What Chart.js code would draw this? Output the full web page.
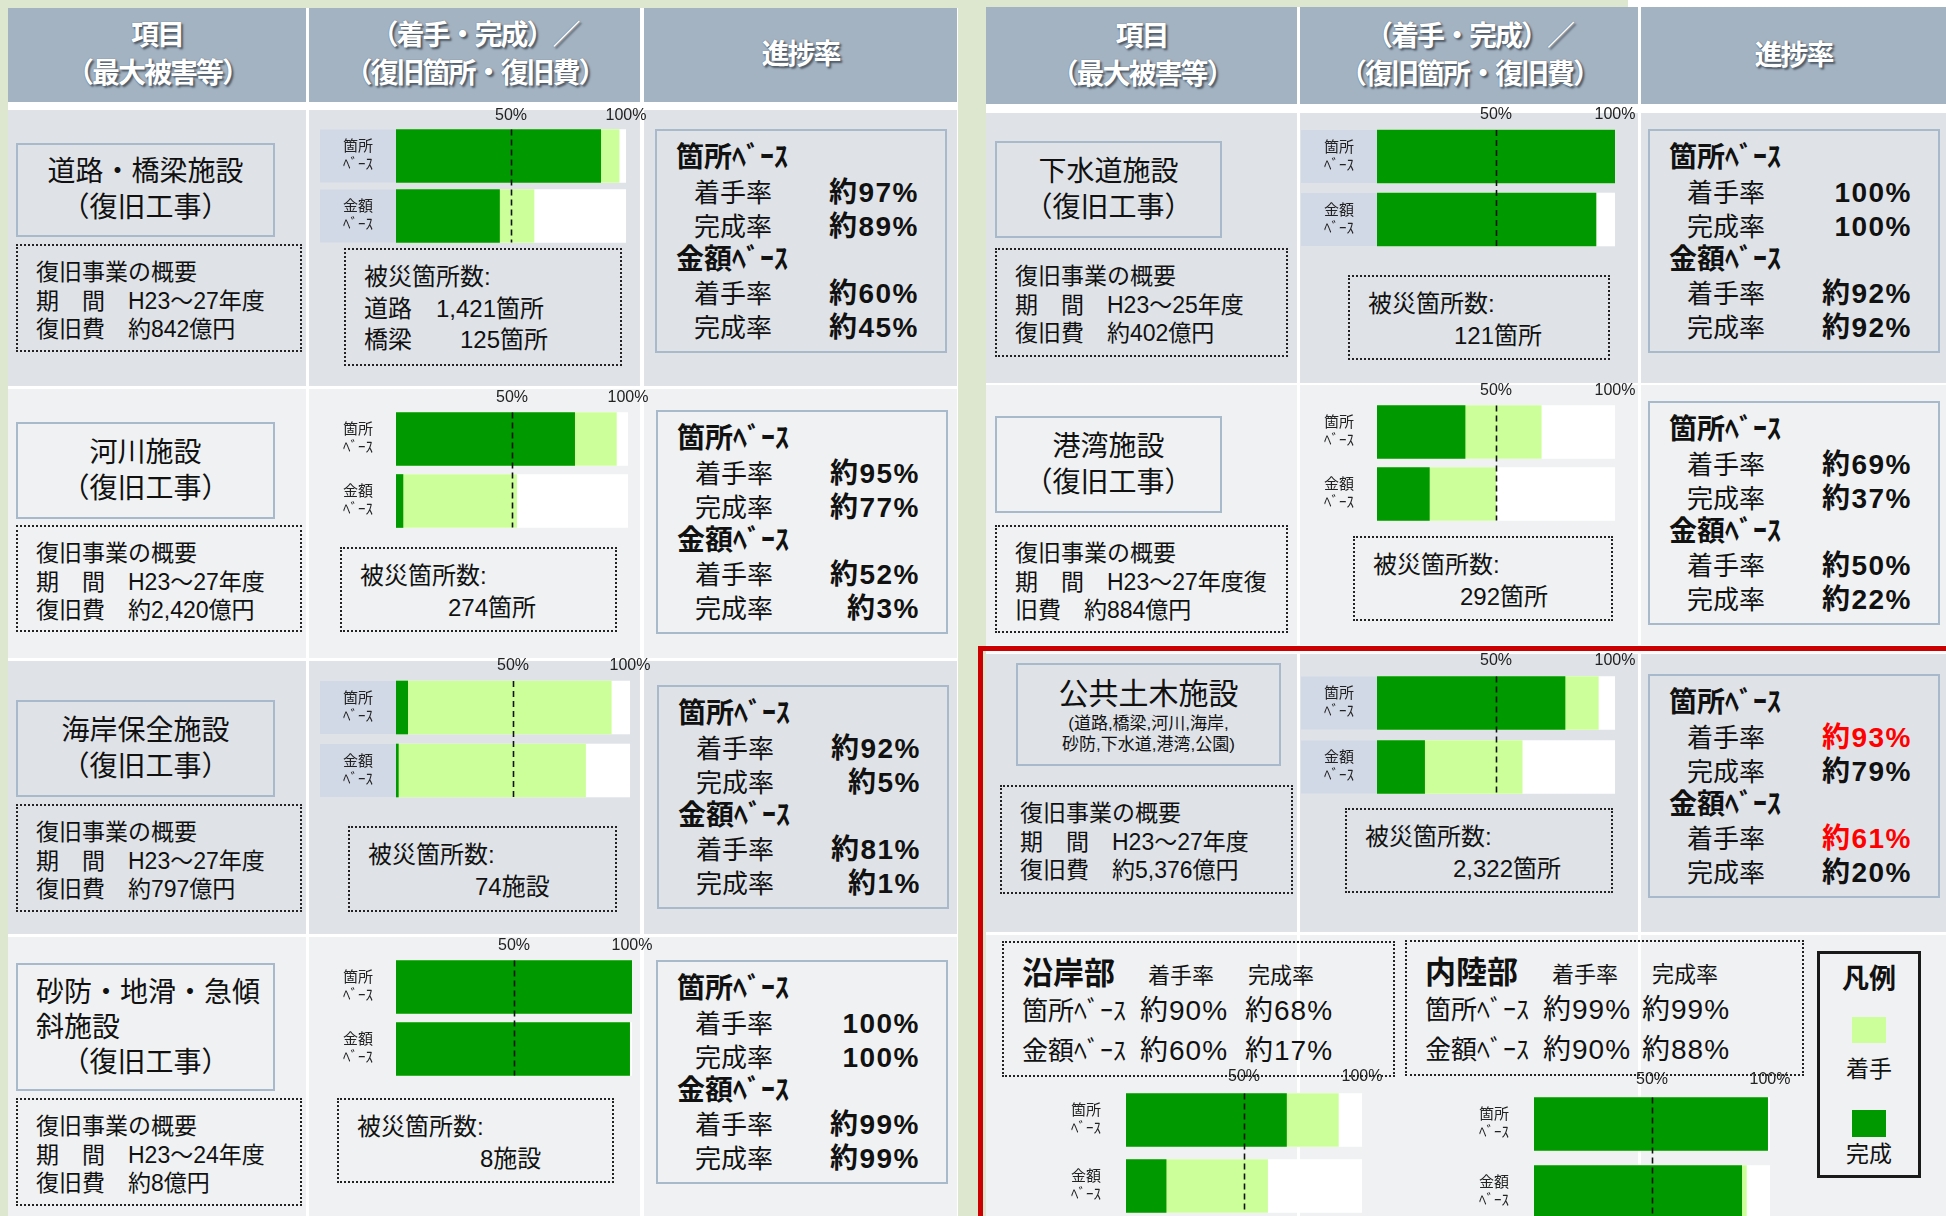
<!DOCTYPE html>
<html lang="ja">
<head>
<meta charset="utf-8">
<title>公共土木施設 復旧工事の進捗</title>
<script src="https://cdn.jsdelivr.net/npm/chart.js@4.4.1/dist/chart.umd.min.js"></script>
<style>
  html, body { margin: 0; padding: 0; }
  body { width: 1946px; height: 1216px; position: relative; overflow: hidden; background: #dde7cf;
         font-family: 'Liberation Sans', 'Noto Sans CJK JP', sans-serif; color: #111; }
  .abs { position: absolute; box-sizing: border-box; }
  .head { background: #a4b3c2; color: #fff; font-weight: 700; font-size: 28px; line-height: 38px; letter-spacing: -2px;
          display: flex; flex-direction: column; align-items: center; justify-content: center;
          text-shadow: 2px 2px 2px #4e5a67, 0 0 1px #4e5a67; }
  .item { border: 2.5px solid #a9b9cc; display: flex; flex-direction: column; justify-content: center; font-size: 28px; line-height: 36px; }
  .item div { text-align: center; white-space: nowrap; }
  .dot { border: 2px dotted #222; }
  .prog { border: 2.5px solid #a9b9cc; }
  .line { position: absolute; white-space: nowrap; transform: translateY(-50%); line-height: 1; }
</style>
</head>
<body>
<script>
// ---- データ ----
const facilities = ['道路・橋梁施設', '河川施設', '海岸保全施設', '砂防・地滑・急傾斜施設', '下水道施設', '港湾施設', '公共土木施設'];
const baseLabels = [['箇所', 'ﾍﾞｰｽ'], ['金額', 'ﾍﾞｰｽ']];
const scaleMax = [100, 100];

// 箇所ベース / 金額ベース (%)
const startCount = [97, 95, 92, 100, 100, 69, 93];
const doneCount  = [89, 77, 5, 100, 100, 37, 79];
const startCost  = [60, 52, 81, 99, 92, 50, 61];
const doneCost   = [45, 3, 1, 99, 92, 22, 20];

const titleLines = [
  ['道路・橋梁施設', '（復旧工事）'],
  ['河川施設', '（復旧工事）'],
  ['海岸保全施設', '（復旧工事）'],
  ['砂防・地滑・急傾', '斜施設', '（復旧工事）'],
  ['下水道施設', '（復旧工事）'],
  ['港湾施設', '（復旧工事）'],
  ['公共土木施設', '(道路,橋梁,河川,海岸,', '砂防,下水道,港湾,公園)']
];
const overviewLines = [
  ['復旧事業の概要', '期　間　H23～27年度', '復旧費　約842億円'],
  ['復旧事業の概要', '期　間　H23～27年度', '復旧費　約2,420億円'],
  ['復旧事業の概要', '期　間　H23～27年度', '復旧費　約797億円'],
  ['復旧事業の概要', '期　間　H23～24年度', '復旧費　約8億円'],
  ['復旧事業の概要', '期　間　H23～25年度', '復旧費　約402億円'],
  ['復旧事業の概要', '期　間　H23～27年度復', '旧費　約884億円'],
  ['復旧事業の概要', '期　間　H23～27年度', '復旧費　約5,376億円']
];
const damageLines = [
  ['被災箇所数:', '道路　1,421箇所', '橋梁　　125箇所'],
  ['被災箇所数:', '274箇所'],
  ['被災箇所数:', '74施設'],
  ['被災箇所数:', '8施設'],
  ['被災箇所数:', '121箇所'],
  ['被災箇所数:', '292箇所'],
  ['被災箇所数:', '2,322箇所']
];

const regions = ['沿岸部', '内陸部'];
const regionStartCount = [90, 99];
const regionDoneCount  = [68, 99];
const regionStartCost  = [60, 90];
const regionDoneCost   = [17, 88];

const headTitles = [['項目', '（最大被害等）'], ['（着手・完成）／', '（復旧箇所・復旧費）'], ['進捗率']];
const legendLabels = ['着手', '完成'];

// ---- 見た目 ----
const FONT = "'Liberation Sans', 'Noto Sans CJK JP', sans-serif";
Chart.defaults.font.family = FONT;
const DONE = '#009900', START = '#ccff99';
const DARK_ROW = '#dfe3e8', LIGHT_ROW = '#eff1f3';
const BAR = 53;

function el(x, y, w, h, cls, css) {
  const d = document.createElement('div');
  d.className = 'abs ' + (cls || '');
  Object.assign(d.style, { left: x + 'px', top: y + 'px', width: w + 'px', height: h + 'px' }, css || {});
  document.body.appendChild(d);
  return d;
}
function txt(parent, x, y, s, css) {
  const d = document.createElement('div');
  d.className = 'line';
  d.textContent = s;
  Object.assign(d.style, { top: y + 'px' }, x === null ? {} : { left: x + 'px' }, css || {});
  parent.appendChild(d);
  return d;
}
const pct = v => v === 100 ? '100%' : '約' + v + '%';

// テーブルの枠
el(1628, 0, 318, 8, '', { background: '#fff' });
el(8, 8, 950, 1208, '', { background: '#fff' });
el(986, 7, 960, 1209, '', { background: '#fff' });

const tables = [
  { cols: [[8, 306], [309, 640], [644, 957]], head: [8, 102], rows: [[110, 386], [389, 658], [661, 934], [937, 1216]] },
  { cols: [[986, 1297], [1300, 1638], [1641, 1946]], head: [7, 104], rows: [[113, 383], [385, 645], [654, 932], [935, 1216]] }
];
tables.forEach(t => {
  t.cols.forEach((c, ci) => {
    const h = el(c[0], t.head[0], c[1] - c[0], t.head[1] - t.head[0], 'head');
    headTitles[ci].forEach(s => { const d = document.createElement('div'); d.textContent = s; h.appendChild(d); });
    t.rows.forEach((r, ri) => {
      el(c[0], r[0], c[1] - c[0], r[1] - r[0], '', { background: ri % 2 === 0 ? DARK_ROW : LIGHT_ROW });
    });
  });
});

// 各施設の配置
const layout = [
  { item: [16, 143, 259, 94],  over: [16, 244, 286, 108],  dmg: [344, 248, 278, 118], indent: 20,  prog: [655, 129],  bar: [396, 129, 230, 60], box: true },
  { item: [16, 422, 259, 97],  over: [16, 525, 286, 107],  dmg: [340, 547, 277, 85],  indent: 108, prog: [656, 410],  bar: [396, 412, 232, 62], box: false },
  { item: [16, 700, 259, 97],  over: [16, 804, 286, 108],  dmg: [348, 826, 269, 86],  indent: 127, prog: [657, 685],  bar: [396, 681, 234, 63], box: true },
  { item: [16, 963, 259, 128], over: [16, 1098, 286, 108], dmg: [337, 1098, 277, 85], indent: 143, prog: [656, 960],  bar: [396, 960, 236, 62], box: false },
  { item: [995, 141, 227, 97], over: [995, 248, 293, 109], dmg: [1348, 275, 262, 85], indent: 106, prog: [1648, 129], bar: [1377, 130, 238, 63], box: true },
  { item: [995, 416, 227, 97], over: [995, 525, 293, 108], dmg: [1353, 536, 260, 85], indent: 107, prog: [1648, 401], bar: [1377, 405, 238, 62], box: false },
  { item: [1016, 663, 265, 103], over: [1000, 785, 293, 109], dmg: [1345, 808, 268, 85], indent: 108, prog: [1648, 674], bar: [1377, 676, 238, 64], box: true, hot: true }
];

// 50%の破線
const halfLine = {
  id: 'halfLine',
  afterDatasetsDraw(chart) {
    const { ctx, scales: { x, y } } = chart;
    const px = Math.round(x.getPixelForValue(50)) + 0.5;
    const top = y.getPixelForTick(0) - BAR / 2;
    const bottom = y.getPixelForTick(y.ticks.length - 1) + BAR / 2;
    ctx.save();
    ctx.setLineDash([6, 4]);
    ctx.lineWidth = 1.6;
    ctx.strokeStyle = '#111';
    ctx.beginPath();
    ctx.moveTo(px, top);
    ctx.lineTo(px, bottom);
    ctx.stroke();
    ctx.restore();
  }
};
// 箇所/金額ラベルの背景
const labelBox = {
  id: 'labelBox',
  beforeDraw(chart, args, opts) {
    if (!opts.show) return;
    const { ctx, chartArea, scales: { y } } = chart;
    ctx.save();
    ctx.fillStyle = '#d2d9e6';
    y.ticks.forEach((t, i) => {
      const cy = y.getPixelForTick(i);
      ctx.fillRect(y.left, cy - BAR / 2, chartArea.left - y.left, BAR);
    });
    ctx.restore();
  }
};

function makeBars(x0, barTop, barW, band, done, started, withBox, LW) {
  const TH = 22, RP = 26;
  const cv = document.createElement('canvas');
  cv.width = LW + barW + RP;
  cv.height = TH + band * 2;
  cv.className = 'abs';
  cv.style.left = (x0 - LW) + 'px';
  cv.style.top = (barTop - (band - BAR) / 2 - TH) + 'px';
  document.body.appendChild(cv);

  new Chart(cv, {
    type: 'bar',
    data: {
      labels: baseLabels,
      datasets: [
        { label: '完成', data: done, backgroundColor: DONE, grouped: false, barThickness: BAR },
        { label: '着手', data: started, backgroundColor: START, grouped: false, barThickness: BAR },
        { label: '', data: scaleMax, backgroundColor: '#ffffff', grouped: false, barThickness: BAR }
      ]
    },
    options: {
      indexAxis: 'y',
      responsive: false,
      animation: false,
      events: [],
      layout: { autoPadding: false, padding: { top: 0, right: RP, bottom: 0, left: 0 } },
      plugins: {
        legend: { display: false },
        tooltip: { enabled: false },
        labelBox: { show: withBox }
      },
      scales: {
        x: {
          position: 'top', min: 0, max: 100,
          grid: { display: false, drawTicks: false },
          border: { display: false },
          ticks: { stepSize: 50, padding: 1, color: '#222', font: { size: 16 },
                   callback: v => v === 0 ? '' : v + '%' },
          afterFit: s => { s.height = TH; s.paddingLeft = 0; s.paddingRight = 0; }
        },
        y: {
          grid: { display: false, drawTicks: false },
          border: { display: false },
          ticks: { crossAlign: 'center', padding: LW / 2 - 15, color: '#222', font: { size: 15, lineHeight: 1.2 } },
          afterFit: s => { s.width = LW; s.paddingTop = 0; s.paddingBottom = 0; }
        }
      }
    },
    plugins: [labelBox, halfLine]
  });
}

facilities.forEach((name, i) => {
  const L = layout[i];

  // 施設名
  const it = el(L.item[0], L.item[1], L.item[2], L.item[3], 'item');
  titleLines[i].forEach((s, k) => {
    const d = document.createElement('div');
    d.textContent = s;
    if (titleLines[i].length === 3 && i !== 6) {
      d.style.lineHeight = '35px';
      if (k < 2) { d.style.textAlign = 'left'; d.style.paddingLeft = '18px'; }
    }
    if (i === 6) {
      if (k === 0) { d.style.fontSize = '30px'; d.style.lineHeight = '38px'; }
      else { d.style.fontSize = '17px'; d.style.lineHeight = '21px'; }
    }
    it.appendChild(d);
  });

  // 復旧事業の概要
  const ov = el(L.over[0], L.over[1], L.over[2], L.over[3], 'dot', { fontSize: '23px' });
  overviewLines[i].forEach((s, k) => txt(ov, 18, 26 + k * 28.5, s));

  // 被災箇所数
  const dm = el(L.dmg[0], L.dmg[1], L.dmg[2], L.dmg[3], 'dot', { fontSize: '24px' });
  damageLines[i].forEach((s, k) => txt(dm, k === 0 ? 18 : L.indent - 2, 27 + k * 31.5, s));

  // 進捗率
  const pg = el(L.prog[0], L.prog[1], 292, 224, 'prog');
  const rows = [
    ['箇所ﾍﾞｰｽ', null, 27], ['着手率', startCount[i], 62], ['完成率', doneCount[i], 96],
    ['金額ﾍﾞｰｽ', null, 129], ['着手率', startCost[i], 163], ['完成率', doneCost[i], 197]
  ];
  rows.forEach(([label, v, y]) => {
    if (v === null) {
      txt(pg, 19, y, label, { fontSize: '28px', fontWeight: '700' });
    } else {
      txt(pg, 37, y, label, { fontSize: '26px' });
      const red = L.hot && label === '着手率';
      txt(pg, null, y, pct(v), { right: '26px', fontSize: '28px', fontWeight: '700', letterSpacing: '1.5px', color: red ? '#ff0000' : '#111' });
    }
  });

  makeBars(L.bar[0], L.bar[1], L.bar[2], L.bar[3], [doneCount[i], doneCost[i]], [startCount[i], startCost[i]], L.box, 76);
});

// 沿岸部・内陸部
const regionBoxes = [
  { box: [1002, 941, 393, 136], colX: [144, 244], valX: [136, 241], bar: [1126, 1093, 236, 66] },
  { box: [1405, 940, 399, 136], colX: [145, 245], valX: [136, 235], bar: [1534, 1097, 236, 68] }
];
regions.forEach((name, r) => {
  const R = regionBoxes[r];
  const b = el(R.box[0], R.box[1], R.box[2], R.box[3], 'dot');
  const big = { fontSize: '28px', letterSpacing: '1px' };
  txt(b, 18, 30, name, { fontSize: '31px', fontWeight: '700' });
  txt(b, R.colX[0], 33, '着手率', { fontSize: '22px' });
  txt(b, R.colX[1], 33, '完成率', { fontSize: '22px' });
  txt(b, 18, 68, '箇所ﾍﾞｰｽ', { fontSize: '26px' });
  txt(b, R.valX[0], 68, pct(regionStartCount[r]), big);
  txt(b, R.valX[1], 68, pct(regionDoneCount[r]), big);
  txt(b, 18, 108, '金額ﾍﾞｰｽ', { fontSize: '26px' });
  txt(b, R.valX[0], 108, pct(regionStartCost[r]), big);
  txt(b, R.valX[1], 108, pct(regionDoneCost[r]), big);

  makeBars(R.bar[0], R.bar[1], R.bar[2], R.bar[3], [regionDoneCount[r], regionDoneCost[r]], [regionStartCount[r], regionStartCost[r]], false, 80);
});

// 凡例
const lg = el(1817, 951, 104, 227, '', { border: '3px solid #1a1a1a' });
txt(lg, null, 25, '凡例', { left: '50%', transform: 'translate(-50%,-50%)', fontSize: '27px', fontWeight: '700' });
el(1852, 1017, 34, 26, '', { background: START });
el(1852, 1110, 34, 27, '', { background: DONE });
txt(lg, null, 115, legendLabels[0], { left: '50%', transform: 'translate(-50%,-50%)', fontSize: '23px' });
txt(lg, null, 200, legendLabels[1], { left: '50%', transform: 'translate(-50%,-50%)', fontSize: '23px' });

// 赤枠
el(978, 646, 1000, 620, '', { border: '5px solid #cc0000', zIndex: 5 });
</script>
</body>
</html>
